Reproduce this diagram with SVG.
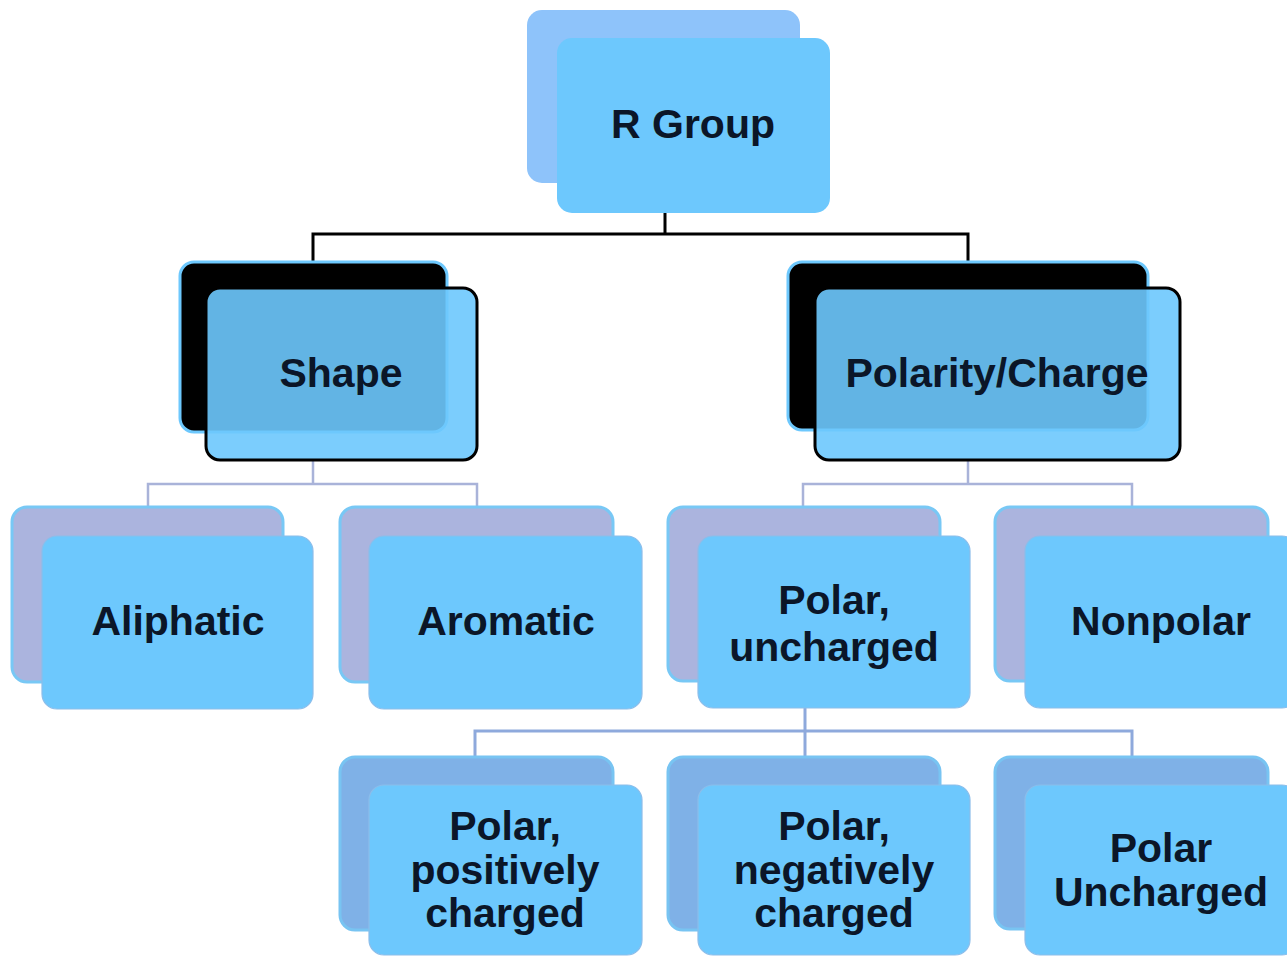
<svg xmlns="http://www.w3.org/2000/svg" width="1287" height="957" viewBox="0 0 1287 957">
<style>
.t{font-family:"Liberation Sans",Arial,sans-serif;font-weight:bold;font-size:41px;fill:#0B1628;text-anchor:middle}
.front{fill:#6DC8FD;stroke:#8CBDEA;stroke-width:1.2}
.back3{fill:#ABB4DE;stroke:#78C8F5;stroke-width:3}
.back4{fill:#7FB1E7;stroke:#78C4F2;stroke-width:3}
.backTop{fill:#8EC3FA}
.backBlk{fill:#000;stroke:#6DC8FD;stroke-width:3}
.frontBlk{fill:#6DC8FD;fill-opacity:0.9;stroke:#000;stroke-width:3}
.c1{stroke:#000;stroke-width:3;fill:none}
.c2{stroke:#A9B3D9;stroke-width:2.5;fill:none}
.c3{stroke:#8EA9DC;stroke-width:3;fill:none}
</style>
<rect width="1287" height="957" fill="#fff"/>
<g id="connectors">
<path class="c1" d="M665 213V234M313 262V234H968V262"/>
<path class="c2" d="M313 460V484M148 507V484H477V507"/>
<path class="c2" d="M968 460V484M803 507V484H1132V507"/>
<path class="c3" d="M805 708V758M475 758V731H1132V758"/>
</g>
<g id="n-rgroup">
<rect class="backTop" x="527" y="10" width="273" height="173" rx="15"/>
<rect x="557" y="38" width="273" height="175" rx="15" fill="#6DC8FD"/>
<text class="t" x="693" y="138">R Group</text>
</g>
<g id="n-shape">
<rect class="backBlk" x="180" y="262" width="267" height="170" rx="14"/>
<rect class="frontBlk" x="206" y="288" width="271" height="172" rx="14"/>
<text class="t" x="341" y="387">Shape</text>
</g>
<g id="n-polarity">
<rect class="backBlk" x="788" y="262" width="360" height="168" rx="14"/>
<rect class="frontBlk" x="815" y="288" width="365" height="172" rx="14"/>
<text class="t" x="997" y="387">Polarity/Charge</text>
</g>
<g id="n-aliphatic">
<rect class="back3" x="12" y="507" width="271" height="175" rx="15"/>
<rect class="front" x="42" y="536" width="271" height="173" rx="15"/>
<text class="t" x="178" y="635">Aliphatic</text>
</g>
<g id="n-aromatic">
<rect class="back3" x="340" y="507" width="273" height="175" rx="15"/>
<rect class="front" x="369" y="536" width="273" height="173" rx="15"/>
<text class="t" x="506" y="635">Aromatic</text>
</g>
<g id="n-polar-uncharged">
<rect class="back3" x="668" y="507" width="272" height="174" rx="15"/>
<rect class="front" x="698" y="536" width="272" height="172" rx="15"/>
<text class="t" x="834" y="614">Polar,</text>
<text class="t" x="834" y="661">uncharged</text>
</g>
<g id="n-nonpolar">
<rect class="back3" x="995" y="507" width="273" height="174" rx="15"/>
<rect class="front" x="1025" y="536" width="272" height="172" rx="15"/>
<text class="t" x="1161" y="635">Nonpolar</text>
</g>
<g id="n-positive">
<rect class="back4" x="340" y="757" width="273" height="173" rx="15"/>
<rect class="front" x="369" y="785" width="273" height="170" rx="15"/>
<text class="t" x="505" y="840">Polar,</text>
<text class="t" x="505" y="884">positively</text>
<text class="t" x="505" y="927">charged</text>
</g>
<g id="n-negative">
<rect class="back4" x="668" y="757" width="272" height="173" rx="15"/>
<rect class="front" x="698" y="785" width="272" height="170" rx="15"/>
<text class="t" x="834" y="840">Polar,</text>
<text class="t" x="834" y="884">negatively</text>
<text class="t" x="834" y="927">charged</text>
</g>
<g id="n-polar-uncharged-2">
<rect class="back4" x="995" y="757" width="273" height="172" rx="15"/>
<rect class="front" x="1025" y="785" width="272" height="170" rx="15"/>
<text class="t" x="1161" y="862">Polar</text>
<text class="t" x="1161" y="906">Uncharged</text>
</g>
</svg>
